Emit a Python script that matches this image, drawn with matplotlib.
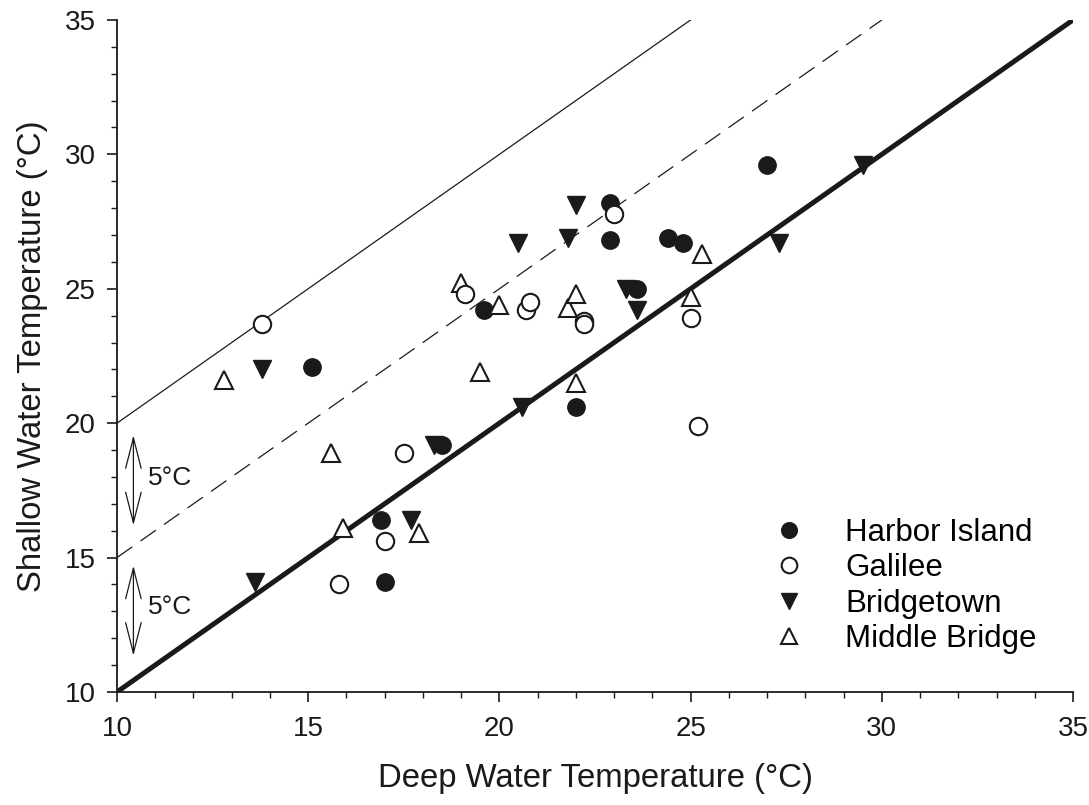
import matplotlib
matplotlib.use('Agg')
from matplotlib import pyplot as plt
from matplotlib.ticker import MultipleLocator

plt.rcParams['font.family'] = ['Liberation Sans', 'DejaVu Sans']

# data (deep, shallow)
harbor_x = [15.1, 16.9, 17.0, 18.5, 19.6, 22.0, 22.9, 22.9, 23.6, 24.4, 24.8, 27.0]
harbor_y = [22.1, 16.4, 14.1, 19.2, 24.2, 20.6, 28.2, 26.8, 25.0, 26.9, 26.7, 29.6]

galilee_x = [13.8, 15.8, 17.0, 17.5, 19.1, 20.7, 20.8, 22.2, 22.2, 23.0, 25.0, 25.2]
galilee_y = [23.7, 14.0, 15.6, 18.9, 24.8, 24.2, 24.5, 23.8, 23.7, 27.8, 23.9, 19.9]

bridgetown_x = [13.6, 13.8, 17.7, 18.3, 20.5, 20.6, 21.8, 22.0, 23.3, 23.6, 27.3, 29.5]
bridgetown_y = [14.1, 22.0, 16.4, 19.2, 26.7, 20.6, 26.9, 28.1, 25.0, 24.2, 26.7, 29.6]

middle_x = [12.8, 15.6, 15.9, 17.9, 19.0, 19.5, 20.0, 21.8, 22.0, 22.0, 25.0, 25.3]
middle_y = [21.6, 18.9, 16.1, 15.9, 25.2, 21.9, 24.4, 24.3, 24.8, 21.5, 24.7, 26.3]

ink = '#1a1a1a'

fig = plt.figure(figsize=(10.89, 8.05), dpi=100)
ax = fig.add_axes([0.1074, 0.1404, 0.8779, 0.8348])

# 1:1 line and +5 / +10 offset lines
ax.plot([10, 35], [10, 35], color=ink, lw=3.6, zorder=2)
ax.plot([10, 30], [15, 35], color=ink, lw=0.9, dashes=(15, 8), zorder=2)
ax.plot([10, 25], [20, 35], color=ink, lw=0.9, zorder=2)

ax.plot(bridgetown_x, bridgetown_y, 'v', ms=13, mec=ink, mfc=ink, ls='none', label='Bridgetown', zorder=3)
ax.plot(harbor_x, harbor_y, 'o', ms=12.5, mec=ink, mfc=ink, ls='none', label='Harbor Island', zorder=3)
ax.plot(middle_x, middle_y, '^', ms=13, mec=ink, mfc='white', mew=1.5, ls='none', label='Middle Bridge', zorder=3)
ax.plot(galilee_x, galilee_y, 'o', ms=12.5, mec=ink, mfc='white', mew=1.5, ls='none', label='Galilee', zorder=3)

# 5 degree arrows
arrow = dict(arrowstyle='<->, head_length=1.1, head_width=0.28', color=ink, lw=0.9, mutation_scale=20, shrinkA=0, shrinkB=0)
ax.annotate('', xy=(10.43, 19.55), xytext=(10.43, 16.2), arrowprops=arrow)
ax.annotate('', xy=(10.43, 14.7), xytext=(10.43, 11.35), arrowprops=arrow)
ax.text(10.82, 17.95, '5°C', fontsize=19, color=ink, va='center', ha='left')
ax.text(10.82, 13.15, '5°C', fontsize=19, color=ink, va='center', ha='left')

ax.set_xlim(10, 35)
ax.set_ylim(10, 35)
ax.xaxis.set_major_locator(MultipleLocator(5))
ax.yaxis.set_major_locator(MultipleLocator(5))
ax.xaxis.set_minor_locator(MultipleLocator(1))
ax.yaxis.set_minor_locator(MultipleLocator(1))
ax.spines['top'].set_visible(False)
ax.spines['right'].set_visible(False)
for s in ['left', 'bottom']:
    ax.spines[s].set_linewidth(1.3)
    ax.spines[s].set_color(ink)
ax.tick_params(which='major', direction='out', length=7.5, width=1.2, labelsize=20, colors=ink)
ax.tick_params(which='minor', direction='out', length=4, width=1.0, colors=ink)
ax.tick_params(axis='x', which='major', pad=10)
ax.tick_params(axis='y', which='major', pad=8)

ax.set_xlabel('Deep Water Temperature (°C)', fontsize=23.7, color=ink, labelpad=15)
ax.set_ylabel('Shallow Water Temperature (°C)', fontsize=23.7, color=ink, labelpad=12)

handles, labels = ax.get_legend_handles_labels()
order = [1, 3, 0, 2]
ax.legend([handles[i] for i in order], [labels[i] for i in order], frameon=False, fontsize=22.5,
          loc='lower right', bbox_to_anchor=(0.975, 0.038), markerscale=0.9,
          handletextpad=0.8, labelspacing=0.17, borderaxespad=0)

fig.savefig('out.png', dpi=100)
